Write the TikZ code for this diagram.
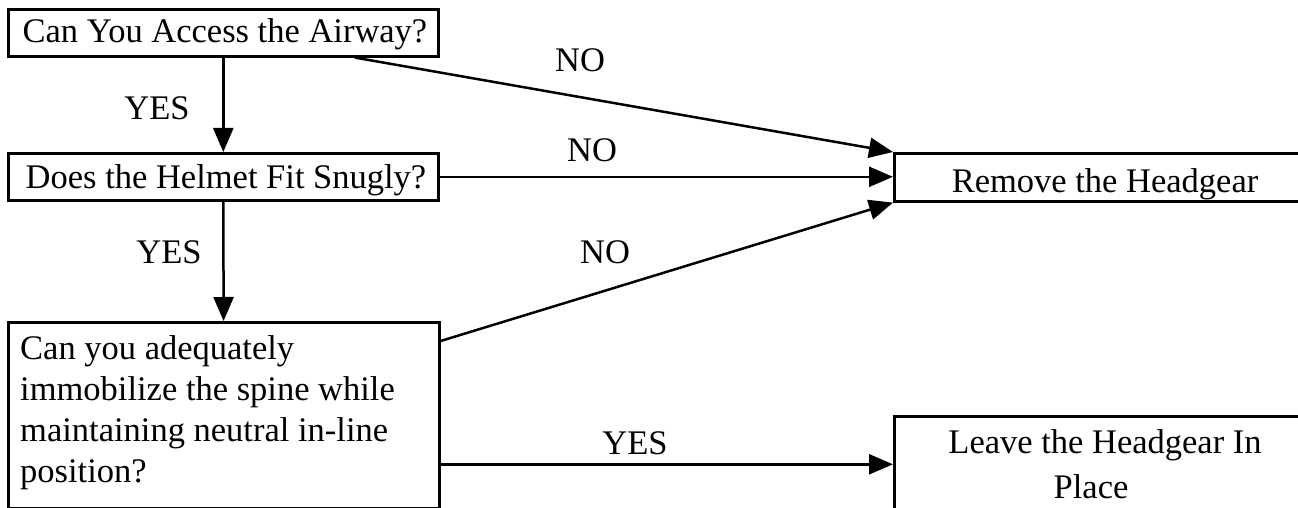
\documentclass[tikz,border=0pt]{standalone}
\usepackage{fontspec}
\setmainfont{Liberation Serif}
\usetikzlibrary{arrows.meta,calc}
\begin{document}
\begin{tikzpicture}[x=1pt,y=-1pt,
  box/.style={draw,line width=2.6pt,inner sep=0pt,anchor=north west},
  txt/.style={inner sep=0pt,font=\fontsize{34.5}{41}\selectfont},
  lbl/.style={inner sep=0pt,font=\fontsize{34.5}{41}\selectfont},
  arr/.style={line width=2.5pt,-{Triangle[length=24pt,width=20pt]}}]
\useasboundingbox (0,0) rectangle (1298,508);
\clip (0,0) rectangle (1298,508);
\node[box,minimum width=430pt,minimum height=47pt] (A) at (7,8) {};
\node[txt,anchor=base] (At) at (225,43) {Can You Access the Airway?};
\node[box,minimum width=430pt,minimum height=47pt] (B) at (7,152) {};
\node[txt,anchor=base] (Bt) at (226,188) {Does the Helmet Fit Snugly?};
\node[box,minimum width=431pt,minimum height=186pt] (C) at (7,321) {};
\node[txt,anchor=base west,align=left] (Ct) at (20,482) {Can you adequately\\immobilize the spine while\\maintaining neutral in-line\\position?};
\node[box,minimum width=424pt,minimum height=48pt] (D) at (893,152) {};
\node[txt,anchor=base] (Dt) at (1105,192) {Remove the Headgear};
\node[box,minimum width=424pt,minimum height=96pt] (E) at (893,415) {};
\node[txt,anchor=base] (Et1) at (1105,453) {Leave the Headgear In};
\node[txt,anchor=base] (Et2) at (1091,498) {Place};
\coordinate (a1) at ([xshift=348pt]A.south west);
\coordinate (c1) at ([yshift=-20pt]C.north east);
\draw[arr] (A) -- (B);
\draw[arr] (B) -- (C);
\draw[arr] (a1) -- (D.north west);
\draw[arr] (B.east) -- (B.east -| D.west);
\draw[arr] (c1) -- (D.south west);
\draw[arr] (E.west -| C.east) -- (E.west);
\node[lbl] (y1) at (157,108) {YES};
\node[lbl] (y2) at (169,252) {YES};
\node[lbl] (n1) at (580,60) {NO};
\node[lbl] (n2) at (592,150) {NO};
\node[lbl] (n3) at (605,252) {NO};
\node[lbl] (y3) at (635,443) {YES};
\end{tikzpicture}
\end{document}
